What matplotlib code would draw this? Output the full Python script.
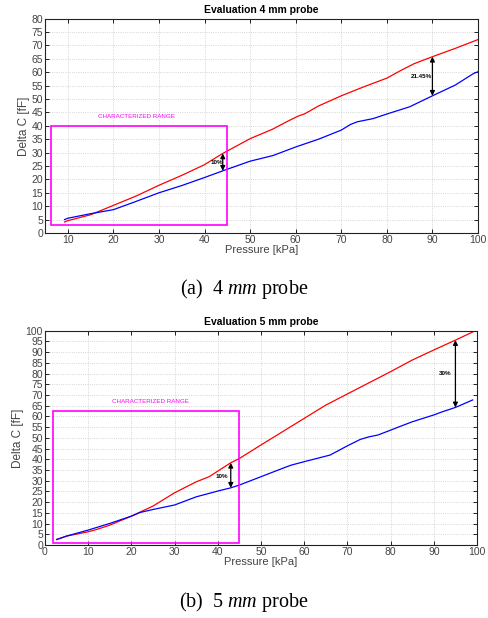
import matplotlib
matplotlib.use("Agg")
import matplotlib.pyplot as plt
from matplotlib.patches import Rectangle
import numpy as np

plt.rcParams['font.family'] = ['Liberation Sans', 'DejaVu Sans']
plt.rcParams['mathtext.fontset'] = 'custom'
plt.rcParams['mathtext.it'] = 'Liberation Serif:italic'
plt.rcParams['mathtext.rm'] = 'Liberation Serif'

# ---- 4 mm probe ----
x4_red = [9.3, 10, 15, 20, 25, 30, 35, 40, 44, 50, 55, 58, 60.5, 62, 65, 70, 75, 80, 83, 86, 90, 95, 100]
y4_red = [4.1, 4.6, 6.8, 10.3, 13.8, 17.8, 21.5, 25.5, 29.7, 35.2, 38.8, 41.5, 43.6, 44.5, 47.4, 51.2, 54.6, 57.8, 60.6, 63.2, 65.8, 68.9, 72.2]
x4_blue = [9.3, 10, 15, 20, 25, 30, 35, 40, 44, 47, 50, 55, 60, 65, 70, 72, 73.5, 77, 80, 85, 90, 95, 99, 100]
y4_blue = [5.0, 5.5, 7.2, 8.7, 11.8, 15.0, 17.7, 20.7, 23.2, 25.0, 26.8, 28.9, 32.1, 35.0, 38.4, 40.5, 41.5, 42.7, 44.4, 47.1, 51.2, 55.2, 59.5, 60.2]

# ---- 5 mm probe ----
x5_red = [2.7, 5, 10, 12, 15, 20, 25, 30, 35, 38, 43, 45, 50, 55, 60, 65, 70, 75, 80, 85, 90, 95, 99]
y5_red = [2.6, 4.2, 6.2, 7.3, 9.3, 13.5, 18.2, 24.4, 29.5, 31.9, 38.4, 40.4, 46.7, 52.9, 59.1, 65.3, 70.5, 75.7, 80.9, 86.3, 91.0, 95.6, 99.4]
x5_blue = [2.7, 5, 10, 15, 20, 22, 25, 30, 35, 40, 43, 45, 50, 55, 57, 60, 66, 70, 73, 75, 77, 80, 82, 85, 90, 92, 95, 99]
y5_blue = [2.6, 4.2, 7.0, 10.1, 13.5, 15.2, 16.6, 18.7, 22.5, 25.2, 26.7, 28.0, 31.9, 35.8, 37.3, 38.9, 42.0, 46.3, 49.3, 50.5, 51.3, 53.6, 55.2, 57.5, 60.7, 62.2, 64.2, 67.7]

MAGENTA = '#ff00ff'
TICK_GRAY = '#444444'


def style_axes(ax, xlim, ylim, xticks, yticks):
    ax.set_xlim(*xlim)
    ax.set_ylim(*ylim)
    ax.set_xticks(xticks)
    ax.set_yticks(yticks)
    ax.tick_params(direction='in', top=True, right=True, length=3, width=0.6,
                   labelsize=7.5, labelcolor=TICK_GRAY, pad=1.5)
    ax.grid(True, linestyle=':', color='#c8c8c8', linewidth=0.6)
    for sp in ax.spines.values():
        sp.set_linewidth(0.8)
        sp.set_color('#222222')
    ax.set_xlabel('Pressure [kPa]', fontsize=8, color=TICK_GRAY, labelpad=0)
    ax.set_ylabel('Delta C [fF]', fontsize=8.5, color=TICK_GRAY, labelpad=1)


def draw_arrow(ax, x, y_top, y_bot, label, lx, ly):
    ax.annotate('', xy=(x, y_top), xytext=(x, y_bot),
                arrowprops=dict(arrowstyle='<|-|>', color='black', lw=0.9,
                                mutation_scale=7, shrinkA=0, shrinkB=0))
    ax.text(lx, ly, label, fontsize=4.5, fontweight='bold', ha='center', va='center')


fig = plt.figure(figsize=(4.88, 6.18), dpi=100)

# top panel
ax1 = fig.add_axes([0.0922, 0.623, 0.8873, 0.3468])
ax1.plot(x4_red, y4_red, color='red', lw=0.9)
ax1.plot(x4_blue, y4_blue, color='blue', lw=0.9)
ax1.add_patch(Rectangle((6.3, 2.9), 45.0 - 6.3, 40.0 - 2.9, fill=False,
                        edgecolor=MAGENTA, lw=1.2, zorder=3))
ax1.text(25, 43.4, 'CHARACTERIZED RANGE', color=MAGENTA, fontsize=4.5,
         ha='center', va='center')
draw_arrow(ax1, 44, 29.7, 23.2, '10%', 42.6, 26.3)
draw_arrow(ax1, 90, 65.8, 51.2, '21.45%', 87.6, 58.4)
style_axes(ax1, (5, 100), (0, 80), np.arange(10, 101, 10), np.arange(0, 81, 5))
ax1.set_title('Evaluation 4 mm probe', fontsize=7.5, fontweight='bold', pad=4)

# bottom panel
ax2 = fig.add_axes([0.0922, 0.118, 0.8853, 0.3469])
ax2.plot(x5_red, y5_red, color='red', lw=0.9)
ax2.plot(x5_blue, y5_blue, color='blue', lw=0.9)
ax2.add_patch(Rectangle((1.9, 1.2), 45.0 - 1.9, 62.5 - 1.2, fill=False,
                        edgecolor=MAGENTA, lw=1.2, zorder=3))
ax2.text(24.4, 66.9, 'CHARACTERIZED RANGE', color=MAGENTA, fontsize=4.5,
         ha='center', va='center')
draw_arrow(ax2, 43, 38.4, 26.7, '10%', 41.0, 31.9)
draw_arrow(ax2, 95, 95.6, 64.2, '30%', 92.7, 79.8)
style_axes(ax2, (0, 100), (0, 100), np.arange(0, 101, 10), np.arange(0, 101, 5))
ax2.set_title('Evaluation 5 mm probe', fontsize=7.5, fontweight='bold', pad=4)

# captions
fig.text(0.5, 1 - 289 / 618, '(a)  4$\\ \\it{mm}\\ $probe', ha='center', va='center',
         fontsize=14.5, family='Liberation Serif')
fig.text(0.5, 1 - 602 / 618, '(b)  5$\\ \\it{mm}\\ $probe', ha='center', va='center',
         fontsize=14.5, family='Liberation Serif')

fig.savefig('out.png', dpi=100)
